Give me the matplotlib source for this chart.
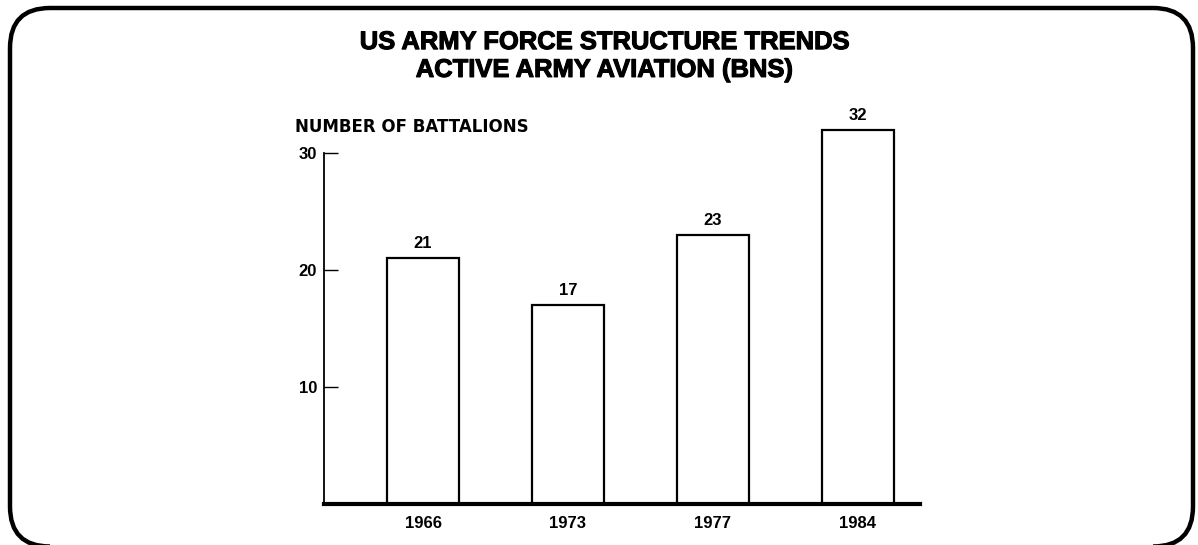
import numpy as np
import matplotlib
matplotlib.use("Agg")
import matplotlib.pyplot as plt
import matplotlib.patheffects as pe
from matplotlib.patches import FancyBboxPatch

# data
years = ['1966', '1973', '1977', '1984']
battalions = [21, 17, 23, 32]
yticks = [10, 20, 30]

title = 'US ARMY FORCE STRUCTURE TRENDS\nACTIVE ARMY AVIATION (BNS)'
ylabel = 'NUMBER OF BATTALIONS'

plt.rcParams['font.family'] = ['Liberation Sans', 'DejaVu Sans']

W, H = 1198, 545
fig = plt.figure(figsize=(W / 100, H / 100), dpi=100)

# rounded frame round the whole figure (inch units so corners stay round)
frame = FancyBboxPatch((0.10, -0.015), 11.83, 5.385,
                       boxstyle='round,pad=0,rounding_size=0.40',
                       transform=fig.dpi_scale_trans, fill=False,
                       edgecolor='black', linewidth=3.2, clip_on=False)
fig.patches.append(frame)

ax = fig.add_axes([324 / W, (H - 504) / H, (920 - 324) / W, (504 - 94.5) / H])
x = np.arange(len(years))
bars = ax.bar(x, battalions, width=0.5, color='white', edgecolor='black',
              linewidth=1.6, zorder=2)

for xi, v in zip(x, battalions):
    ax.text(xi, v + 0.6, str(v), ha='center', va='bottom',
            fontsize=12, fontweight='bold')

ax.set_xlim(-0.683, 3.428)
ax.set_ylim(0, 35)
ax.set_xticks(x)
ax.set_xticklabels(years, fontsize=12, fontweight='bold')
ax.set_yticks(yticks)
ax.set_yticklabels([str(t) for t in yticks], fontsize=12, fontweight='bold')
ax.tick_params(axis='x', length=0, pad=9)
ax.tick_params(axis='y', direction='in', length=10, width=1.0, pad=5)

ax.spines['top'].set_visible(False)
ax.spines['right'].set_visible(False)
ax.spines['left'].set_bounds(0, 30)
ax.spines['left'].set_linewidth(1.3)
ax.spines['bottom'].set_linewidth(3)
ax.spines['bottom'].set_zorder(3)

fig.text(295 / W, (H - 127) / H, ylabel, ha='left', va='center',
         fontsize=12, fontweight='bold', family='DejaVu Sans')
# title is a heavy face in the original, thicken it a bit with a stroke
fig.text(604 / W, (H - 56) / H, title, ha='center', va='center',
         fontsize=18.4, fontweight='heavy', linespacing=1.2,
         path_effects=[pe.withStroke(linewidth=0.8, foreground='black')])

plt.savefig('out.png', dpi=100)
